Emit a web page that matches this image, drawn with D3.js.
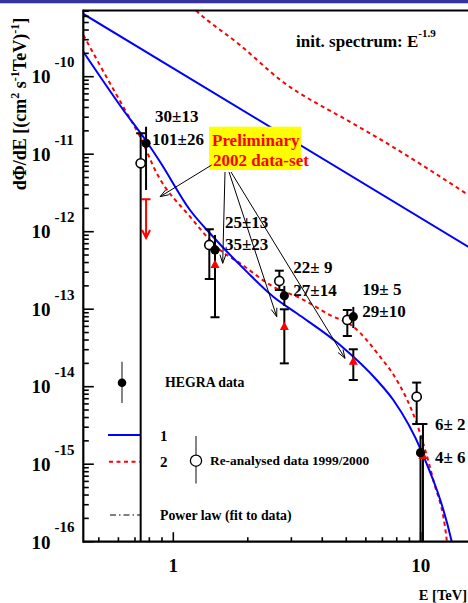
<!DOCTYPE html>
<html><head><meta charset="utf-8">
<script src="https://cdn.jsdelivr.net/npm/d3@7"></script>
<style>
html,body{margin:0;padding:0;background:#fff;}
svg{display:block;font-family:"Liberation Serif","Times New Roman",serif;font-weight:bold;}
</style></head><body>
<svg id="chart" width="468" height="603"></svg>
<script>
// ---- data -------------------------------------------------------------
// re-analysed HEGRA data 1999/2000 (open circles)
const openE   = [0.738, 1.398, 2.682, 5.05, 9.63];
const openF   = [7.63e-12, 6.74e-13, 2.31e-13, 7.26e-14, 7.43e-15];
const openHi  = [1.861e-11, 1.074e-12, 3.14e-13, 9.77e-14, 1.13e-14];
const openLo  = [1e-18, 2.455e-13, 1.77e-13, 4.51e-14, 3.3e-15];

// HEGRA data (filled circles)
const hegraE  = [0.776, 1.474, 2.81, 5.34, 9.98];
const hegraF  = [1.382e-11, 5.81e-13, 1.49e-13, 8.0e-14, 1.41e-15];
const hegraHi = [2.263e-11, 9.06e-13, 2.0e-13, 1.07e-13, 2.31e-15];
const hegraLo = [3.45e-12, 3.72e-13, 1.10e-13, 5.71e-14, 1e-18];

// preliminary 2002 data-set (red triangles) and the upper limit of the first bin
const prelimE  = [1.474, 2.81, 5.34, 10.21];
const prelimF  = [3.72e-13, 5.89e-14, 2.10e-14, 1.28e-15];
const prelimHi = [5.9e-13, 9.97e-14, 3.04e-14, 3.3e-15];
const prelimLo = [7.85e-14, 2.00e-14, 1.22e-14, 1e-18];
const limitE = 0.776, limitF = 2.62e-12, limitArrowTo = 8.3e-13;

// excess counts written next to each bin
const countsTop    = ["30\u00b113", "25\u00b113", "22\u00b1 9", "19\u00b1 5", "6\u00b1 2"];
const countsBottom = ["101\u00b126", "35\u00b123", "27\u00b114", "29\u00b110", "4\u00b1 6"];

// model curves (E in TeV, flux in cm^-2 s^-1 TeV^-1)
const initBlueE = [0.40, 16.0];
const initBlueF = [7.5e-10, 6.07e-13];
const initRedE  = [1.115, 1.235, 1.860, 2.743, 4.943, 6.237, 15.57];
const initRedF  = [9.76e-10, 7.14e-10, 2.56e-10, 8.80e-11, 2.84e-11, 1.862e-11, 2.98e-12];
const model1E = [0.4327, 0.628, 0.7805, 0.8835, 1.168, 1.451, 1.980, 2.536, 3.154, 4.719, 6.641, 7.749, 10.09, 13.35, 13.9];
const model1F = [2.10e-10, 3.72e-11, 1.449e-11, 8.0e-12, 1.905e-12, 8.55e-13, 3.05e-13, 1.449e-13, 8.85e-14, 3.45e-14, 1.219e-14, 6.73e-15, 1.449e-15, 1.0e-16, 5.6e-17];
const model2E = [0.4327, 0.5547, 0.638, 0.7336, 0.8568, 1.168, 1.545, 1.860, 2.536, 3.252, 4.299, 5.341, 6.847, 8.0, 9.634, 11.24, 12.74, 13.0];
const model2F = [3.45e-10, 8.22e-11, 3.72e-11, 1.683e-11, 5.68e-12, 1.563e-12, 5.81e-13, 3.91e-13, 1.95e-13, 1.393e-13, 8.41e-14, 5.94e-14, 2.44e-14, 1.219e-14, 3.37e-15, 6.25e-16, 1.05e-16, 5.75e-17];

// axis ranges and ticks
const xDomain = [0.4327, 15.57];
const yDomain = [1e-16, 7.145e-10];
const xMajor = [1, 10];
const yExponents = [-16, -15, -14, -13, -12, -11, -10];

// ---- layout -------------------------------------------------------------
const L = 83.3, R = 468.3, T = 10.5, B = 541.7;
const svg = d3.select("#chart");
const x = d3.scaleLog().domain(xDomain).range([L, R]);
const y = d3.scaleLog().domain(yDomain).range([B, T]);

// title bar strip
svg.append("rect").attr("x", 0).attr("y", 0).attr("width", 468).attr("height", 3).attr("fill", "#33339d");
svg.append("rect").attr("x", 0).attr("y", 3).attr("width", 468).attr("height", 1).attr("fill", "#c8c8d8");

svg.append("defs").append("clipPath").attr("id", "plot")
  .append("rect").attr("x", L).attr("y", T).attr("width", R - L).attr("height", B - T);

const plot = svg.append("g").attr("clip-path", "url(#plot)");
const line = d3.line().x(d => x(d[0])).y(d => y(d[1])).curve(d3.curveMonotoneX);
const zip = (a, b) => a.map((v, i) => [v, b[i]]);

plot.append("path").attr("d", line(zip(initBlueE, initBlueF)))
  .attr("fill", "none").attr("stroke", "#0000ff").attr("stroke-width", 2);
plot.append("path").attr("d", line(zip(initRedE, initRedF)))
  .attr("fill", "none").attr("stroke", "#ff0000").attr("stroke-width", 2).attr("stroke-dasharray", "4,3.5");
plot.append("path").attr("d", line(zip(model2E, model2F)))
  .attr("fill", "none").attr("stroke", "#ff0000").attr("stroke-width", 2).attr("stroke-dasharray", "4,3.5");
plot.append("path").attr("d", line(zip(model1E, model1F)))
  .attr("fill", "none").attr("stroke", "#0000ff").attr("stroke-width", 2);

// error bars
function errorBar(g, e, lo, hi, color, capLo, capHi, width) {
  const px = x(e);
  g.append("line").attr("x1", px).attr("x2", px).attr("y1", y(hi)).attr("y2", y(lo))
    .attr("stroke", color).attr("stroke-width", width);
  const cap = v => g.append("line").attr("x1", px - 4.5).attr("x2", px + 4.5)
    .attr("y1", y(v)).attr("y2", y(v)).attr("stroke", color).attr("stroke-width", 2);
  if (capHi) cap(hi);
  if (capLo) cap(lo);
}

// upper limit of the first bin
{
  const px = x(limitE);
  plot.append("line").attr("x1", px - 4.5).attr("x2", px + 4.5).attr("y1", y(limitF)).attr("y2", y(limitF))
    .attr("stroke", "#ff0000").attr("stroke-width", 2);
  plot.append("line").attr("x1", px).attr("x2", px).attr("y1", y(limitF)).attr("y2", y(limitArrowTo))
    .attr("stroke", "#ff0000").attr("stroke-width", 2);
  plot.append("path").attr("d", `M${px - 4},${y(limitArrowTo) - 8}L${px},${y(limitArrowTo)}L${px + 4},${y(limitArrowTo) - 8}`)
    .attr("fill", "none").attr("stroke", "#ff0000").attr("stroke-width", 2);
}

openE.forEach((e, i) => errorBar(plot, e, openLo[i], openHi[i], "#000", openLo[i] > 1e-16, true, 2));
hegraE.forEach((e, i) => errorBar(plot, e, hegraLo[i], hegraHi[i], "#000", false, false, 2));
prelimE.forEach((e, i) => errorBar(plot, e, prelimLo[i], prelimHi[i], "#000", prelimLo[i] > 1e-16, true, 2));

// markers
plot.selectAll(".open").data(openE).join("circle")
  .attr("cx", d => x(d)).attr("cy", (d, i) => y(openF[i])).attr("r", 4.6)
  .attr("fill", "#fff").attr("stroke", "#000").attr("stroke-width", 1.6);
plot.selectAll(".tri").data(prelimE).join("path")
  .attr("transform", (d, i) => `translate(${x(d)},${y(prelimF[i])})`)
  .attr("d", "M0,-5.5L4.5,3L-4.5,3Z").attr("fill", "#ff0000");
plot.selectAll(".hegra").data(hegraE).join("circle")
  .attr("cx", d => x(d)).attr("cy", (d, i) => y(hegraF[i])).attr("r", 4.6).attr("fill", "#000");

// ---- axes -------------------------------------------------------------
const axis = svg.append("g").attr("stroke", "#000");
axis.append("line").attr("x1", L).attr("x2", 468).attr("y1", T).attr("y2", T).attr("stroke-width", 2.2);
axis.append("line").attr("x1", L).attr("x2", L).attr("y1", T - 1).attr("y2", B + 1).attr("stroke-width", 2.2);
axis.append("line").attr("x1", L).attr("x2", 468).attr("y1", B).attr("y2", B).attr("stroke-width", 2.2);

// y ticks
const yTicks = [];
for (let p = -17; p <= -9; p++) for (let k = 1; k <= 9; k++) {
  const v = k * Math.pow(10, p);
  if (v >= yDomain[0] && v <= yDomain[1]) yTicks.push({v, major: k === 1});
}
axis.selectAll(".yt").data(yTicks).join("line")
  .attr("x1", L).attr("x2", d => L + (d.major ? 10.5 : 5.5))
  .attr("y1", d => y(d.v)).attr("y2", d => y(d.v)).attr("stroke-width", 1.6);

// x ticks
const xTicks = [];
for (let p = -1; p <= 1; p++) for (let k = 1; k <= 9; k++) {
  const v = k * Math.pow(10, p);
  if (v >= xDomain[0] && v <= xDomain[1]) xTicks.push({v, major: k === 1});
}
axis.selectAll(".xt").data(xTicks).join("line")
  .attr("x1", d => x(d.v)).attr("x2", d => x(d.v))
  .attr("y1", B).attr("y2", d => B - (d.major ? 9.5 : 4.5)).attr("stroke-width", 1.6);

// y tick labels: 10 with exponent
const yl = svg.append("g");
yExponents.forEach(p => {
  const py = y(Math.pow(10, p));
  yl.append("text").attr("x", 50.5).attr("y", py + 6.8).attr("text-anchor", "end")
    .attr("font-size", 19).text("10");
  yl.append("text").attr("x", 54.5).attr("y", py - 9.6).attr("font-size", 15).text(String(p));
});
xMajor.forEach(v => {
  svg.append("text").attr("x", x(v)).attr("y", 571.5).attr("text-anchor", "middle")
    .attr("font-size", 19).text(String(v));
});
svg.append("text").attr("x", 467).attr("y", 600).attr("text-anchor", "end").attr("font-size", 14.5).text("E [TeV]");

// y axis title
{
  const t = svg.append("text").attr("transform", "translate(25.5,104) rotate(-90)")
    .attr("text-anchor", "middle").attr("font-size", 18);
  t.append("tspan").text("d\u03a6/dE [(cm");
  t.append("tspan").attr("dy", -7).attr("font-size", 12).text("2");
  t.append("tspan").attr("dy", 7).text(" s");
  t.append("tspan").attr("dy", -7).attr("font-size", 12).text("-1");
  t.append("tspan").attr("dy", 7).text("TeV)");
  t.append("tspan").attr("dy", -7).attr("font-size", 12).text("-1");
  t.append("tspan").attr("dy", 7).text("]");
}

// spectrum note
{
  const t = svg.append("text").attr("x", 296).attr("y", 47).attr("font-size", 17);
  t.append("tspan").text("init. spectrum: E");
  t.append("tspan").attr("dy", -10).attr("font-size", 11).text("-1.9");
}

// ---- excess counts next to each bin -------------------------------------
const labelShift = [[6, 2, 9, -21], [10, 0, 10, -22], [9, 0, 9, -23], [9, 0.5, 9, -21.5], [14.5, 10, 14.5, -23]];
hegraE.forEach((e, i) => {
  const px = x(e), py = y(hegraF[i]), s = labelShift[i];
  svg.append("text").attr("x", px + s[0]).attr("y", py + s[1]).attr("font-size", 17).text(countsBottom[i]);
  svg.append("text").attr("x", px + s[2]).attr("y", py + s[3]).attr("font-size", 17).text(countsTop[i]);
});

// ---- "Preliminary" note with arrows to the 2002 points -------------------
svg.append("rect").attr("x", 209).attr("y", 126.7).attr("width", 92).attr("height", 43.3).attr("fill", "#ffff00");
svg.append("text").attr("x", 212).attr("y", 146).attr("font-size", 17).attr("fill", "#ff0000").text("Preliminary");
svg.append("text").attr("x", 213).attr("y", 166).attr("font-size", 17).attr("fill", "#ff0000").text("2002 data-set");

const arrowTargets = [[limitE, limitF, 14, -2.6], [prelimE[0], prelimF[0], 7.7, -1.7],
                      [prelimE[1], prelimF[1], -7.6, -10.3], [prelimE[2], prelimF[2], -8.3, -3.4]];
const arrowStarts = [[211.7, 165], [225, 172], [229, 172], [231, 172]];
arrowTargets.forEach((t, i) => {
  const [sx, sy] = arrowStarts[i];
  const ex = x(t[0]) + t[2], ey = y(t[1]) + t[3];
  const a = Math.atan2(ey - sy, ex - sx), len = 9, w = 0.33;
  svg.append("line").attr("x1", sx).attr("y1", sy).attr("x2", ex).attr("y2", ey)
    .attr("stroke", "#000").attr("stroke-width", 1);
  svg.append("path")
    .attr("d", `M${ex - len * Math.cos(a - w)},${ey - len * Math.sin(a - w)}L${ex},${ey}L${ex - len * Math.cos(a + w)},${ey - len * Math.sin(a + w)}`)
    .attr("fill", "none").attr("stroke", "#000").attr("stroke-width", 1);
});

// ---- legend ---------------------------------------------------------------
const lg = svg.append("g");
lg.append("line").attr("x1", 122).attr("x2", 122).attr("y1", 361.7).attr("y2", 403).attr("stroke", "#333").attr("stroke-width", 1.2);
lg.append("circle").attr("cx", 122).attr("cy", 382.7).attr("r", 4.3).attr("fill", "#000");
lg.append("text").attr("x", 165).attr("y", 386.5).attr("font-size", 13.8).text("HEGRA data");

lg.append("line").attr("x1", 108).attr("x2", 140).attr("y1", 435).attr("y2", 435).attr("stroke", "#0000ff").attr("stroke-width", 2);
lg.append("text").attr("x", 160).attr("y", 440.5).attr("font-size", 15).text("1");
lg.append("line").attr("x1", 109).attr("x2", 140).attr("y1", 461.7).attr("y2", 461.7).attr("stroke", "#ff0000").attr("stroke-width", 2).attr("stroke-dasharray", "4,3.5");
lg.append("text").attr("x", 160).attr("y", 467).attr("font-size", 15).text("2");

lg.append("line").attr("x1", 196).attr("x2", 196).attr("y1", 436).attr("y2", 483.5).attr("stroke", "#333").attr("stroke-width", 1.2);
lg.append("circle").attr("cx", 196).attr("cy", 460.7).attr("r", 5.6).attr("fill", "#fff").attr("stroke", "#000").attr("stroke-width", 1.3);
lg.append("text").attr("x", 210).attr("y", 465).attr("font-size", 13.4).text("Re-analysed data 1999/2000");

lg.append("line").attr("x1", 110).attr("x2", 140).attr("y1", 515).attr("y2", 515).attr("stroke", "#000").attr("stroke-width", 1).attr("stroke-dasharray", "6,3,1.5,3");
lg.append("text").attr("x", 160).attr("y", 519.5).attr("font-size", 13.8).text("Power law (fit to data)");
</script>
</body></html>
